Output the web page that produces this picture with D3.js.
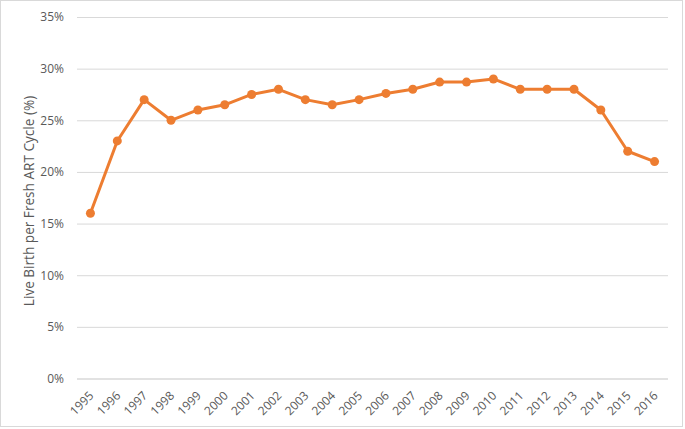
<!DOCTYPE html>
<html lang="en">
	<head>
		<meta charset="utf-8">
		<title>Live birth per fresh ART cycle</title>
		<script type="text/javascript" src="https://cdn.jsdelivr.net/npm/d3@7"></script>
		<style type="text/css">
			body { margin: 0; background: #fff; }
			svg { display: block; }
		</style>
	</head>
	<body>
		<script type="text/javascript">

			//Width and height
			var w = 685;
			var h = 429;

			//Data
			var years = ["1995", "1996", "1997", "1998", "1999", "2000", "2001", "2002", "2003", "2004", "2005",
						 "2006", "2007", "2008", "2009", "2010", "2011", "2012", "2013", "2014", "2015", "2016"];
			var liveBirth = [16, 23, 27, 25, 26, 26.5, 27.5, 28, 27, 26.5, 27,
							 27.6, 28, 28.7, 28.7, 29, 28, 28, 28, 26, 22, 21];
			var yTicks = [0, 5, 10, 15, 20, 25, 30, 35];

			var plot = { left: 77, right: 668, top: 17, bottom: 378.5 };

			var svg = d3.select("body")
						.append("svg")
						.attr("width", w)
						.attr("height", h);

			//chart frame
			svg.append("rect")
			   .attr("x", 0.5)
			   .attr("y", 0.5)
			   .attr("width", 682)
			   .attr("height", 426)
			   .attr("fill", "white")
			   .attr("stroke", "#d9d9d9");

			var x = d3.scaleBand()
					  .domain(years)
					  .range([plot.left, plot.right]);

			var y = d3.scaleLinear()
					  .domain([0, 35])
					  .range([plot.bottom, plot.top]);

			//gridlines + y labels
			var yAxis = d3.axisLeft(y)
						  .tickValues(yTicks)
						  .tickSize(-(plot.right - plot.left))
						  .tickPadding(13)
						  .tickFormat(function(d) { return d + "%"; });

			var gy = svg.append("g")
						.attr("transform", "translate(" + plot.left + ",0)")
						.call(yAxis);
			gy.select(".domain").remove();
			gy.selectAll(".tick line")
			  .attr("stroke", "#d9d9d9")
			  .attr("stroke-width", function(d) { return d === 0 ? 1.5 : 1; });
			gy.selectAll(".tick text")
			  .attr("fill", "#595959")
			  .attr("font-family", "Open Sans, sans-serif")
			  .attr("font-size", "12px");

			//x labels
			var gx = svg.append("g")
						.attr("transform", "translate(0," + plot.bottom + ")")
						.call(d3.axisBottom(x).tickSize(0).tickPadding(0));
			gx.select(".domain").remove();
			gx.selectAll(".tick text")
			  .attr("fill", "#595959")
			  .attr("font-family", "Open Sans, sans-serif")
			  .attr("font-size", "12px")
			  .attr("text-anchor", "end")
			  .attr("dy", null)
			  .attr("y", 0)
			  .attr("transform", "translate(4,18) rotate(-45)");

			//y title
			svg.append("text")
			   .attr("transform", "translate(34,201) rotate(-90)")
			   .attr("text-anchor", "middle")
			   .attr("font-family", "Open Sans, sans-serif")
			   .attr("font-size", "13.6px")
			   .attr("fill", "#595959")
			   .text("Live Birth per Fresh ART Cycle (%)");

			//line
			var line = d3.line()
						 .x(function(d, i) { return x(years[i]) + x.bandwidth() / 2; })
						 .y(function(d) { return y(d); });

			svg.append("path")
			   .datum(liveBirth)
			   .attr("d", line)
			   .attr("fill", "none")
			   .attr("stroke", "#ED7D31")
			   .attr("stroke-width", 3)
			   .attr("stroke-linejoin", "round");

			svg.selectAll("circle")
			   .data(liveBirth)
			   .enter()
			   .append("circle")
			   .attr("cx", function(d, i) { return x(years[i]) + x.bandwidth() / 2; })
			   .attr("cy", function(d) { return y(d); })
			   .attr("r", 4.5)
			   .attr("fill", "#ED7D31");

		</script>
	</body>
</html>
